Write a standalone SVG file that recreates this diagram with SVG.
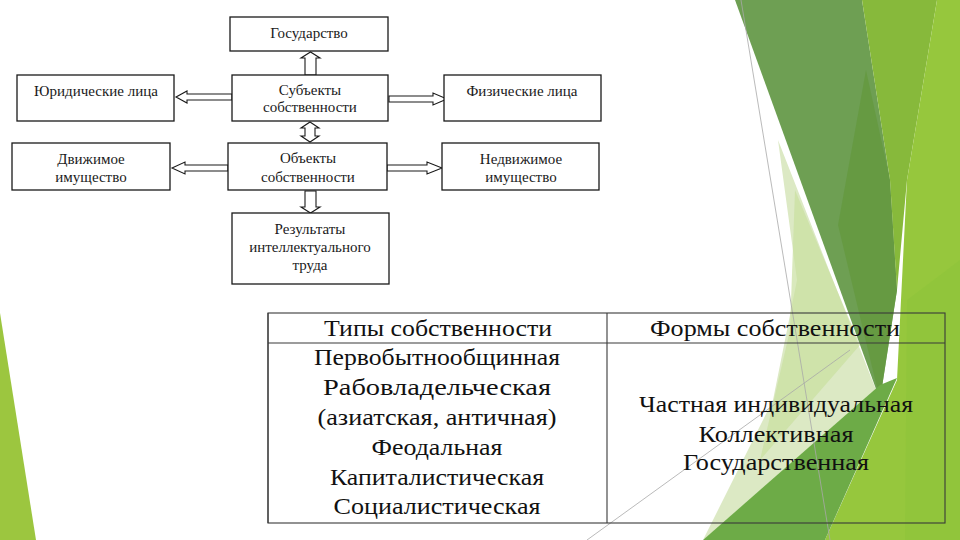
<svg xmlns="http://www.w3.org/2000/svg" width="960" height="540" viewBox="0 0 960 540">
<style>
.box{fill:#ffffff;stroke:#1a1a1a;stroke-width:1.3}
.arr{fill:#ffffff;stroke:#1a1a1a;stroke-width:1.1;stroke-linejoin:miter}
.t{font-size:15px;fill:#1a1a1a;text-anchor:middle}
.tt{font-size:23px;fill:#111111;text-anchor:middle}
.tl{stroke:#3a3a3a;stroke-width:1.1;fill:none}
.thin{stroke:#a8a8a8;stroke-width:0.8;fill:none}
</style>
<rect x="0" y="0" width="960" height="540" fill="#ffffff"/>
<g id="decor">
  <polygon points="0,313 36,540 0,540" fill="#9cc63f"/>
  <polygon points="778,140 880,400 703,540 773,400 797,280" fill="#dce9c4"/>
  <polygon points="795,190 860,345 760,460 790,330" fill="#c9dfa0" opacity="0.7"/>
  <polygon points="735,0 862,0 890,180 897,290 880,400" fill="#6e9f53"/>
  <polygon points="866,70 890,180 897,290 880,400 838,225" fill="#64993f" opacity="0.8"/>
  <polygon points="862,0 937,0 907,180 897,290 890,180" fill="#87b93b"/>
  <polygon points="937,0 960,0 960,540 825,540 897,380 907,180" fill="#96c73d"/>
  <polygon points="907,300 960,260 960,540 905,540" fill="#8ec53a" opacity="0.7"/>
  <polygon points="703,540 880,385 897,378 825,540" fill="#6dab47"/>
  <line class="thin" x1="741" y1="0" x2="830" y2="540"/>
  <line class="thin" x1="587" y1="540" x2="850" y2="350"/>
</g>
<g id="connectors">
  <path class="arr" d="M305,75 V58 H301 L310.5,52 L320,58 H316 V75 Z"/>
  <path class="arr" d="M232,94 H187 V91 L176,97 L187,103 V100 H232 Z"/>
  <path class="arr" d="M389,96 H433 V93 L447,99 L433,105 V102 H389 Z"/>
  <path class="arr" d="M310,122 L319,128 H315 V136 H319 L310,142 L301,136 H305 V128 H301 Z"/>
  <path class="arr" d="M228,165 H185 V162 L172,168 L185,174 V171 H228 Z"/>
  <path class="arr" d="M387,165 H427 V162 L442,168 L427,174 V171 H387 Z"/>
  <path class="arr" d="M305,191 V207 H301 L310.5,213 L320,207 H316 V191 Z"/>
</g>
<g font-family="'Liberation Serif', 'DejaVu Serif', 'Times New Roman', serif">
<g id="n-gosudarstvo">
  <rect class="box" x="230" y="17" width="158" height="34"/>
  <text class="t" x="309" y="38">Государство</text>
</g>
<g id="n-yuridicheskie">
  <rect class="box" x="17" y="75" width="157" height="46"/>
  <text class="t" x="96" y="96">Юридические лица</text>
</g>
<g id="n-subekty">
  <rect class="box" x="232" y="75" width="156" height="46"/>
  <text class="t" x="310" y="95">Субъекты</text>
  <text class="t" x="310" y="112">собственности</text>
</g>
<g id="n-fizicheskie">
  <rect class="box" x="444" y="75" width="157" height="46"/>
  <text class="t" x="522" y="96">Физические лица</text>
</g>
<g id="n-dvizhimoe">
  <rect class="box" x="12" y="143" width="158" height="47"/>
  <text class="t" x="91" y="164">Движимое</text>
  <text class="t" x="91" y="182">имущество</text>
</g>
<g id="n-obekty">
  <rect class="box" x="228" y="143" width="159" height="47"/>
  <text class="t" x="308" y="163">Объекты</text>
  <text class="t" x="308" y="182">собственности</text>
</g>
<g id="n-nedvizhimoe">
  <rect class="box" x="442" y="143" width="157" height="47"/>
  <text class="t" x="521" y="164">Недвижимое</text>
  <text class="t" x="521" y="182">имущество</text>
</g>
<g id="n-rezultaty">
  <rect class="box" x="232" y="213" width="157" height="71"/>
  <text class="t" x="310" y="234">Результаты</text>
  <text class="t" x="310" y="252">интеллектуального</text>
  <text class="t" x="310" y="270">труда</text>
</g>
<g id="table">
  <rect class="tl" x="268" y="313" width="677" height="210"/>
  <line class="tl" x1="268" y1="313" x2="268" y2="523" stroke-width="2"/>
  <line class="tl" x1="268" y1="343" x2="945" y2="343"/>
  <line class="tl" x1="607" y1="313" x2="607" y2="523"/>
  <text class="tt" x="438" y="336" textLength="228" lengthAdjust="spacingAndGlyphs">Типы собственности</text>
  <text class="tt" x="775" y="336" textLength="250" lengthAdjust="spacingAndGlyphs">Формы собственности</text>
  <text class="tt" x="437" y="365" textLength="246" lengthAdjust="spacingAndGlyphs">Первобытнообщинная</text>
  <text class="tt" x="437" y="395" textLength="228" lengthAdjust="spacingAndGlyphs">Рабовладельческая</text>
  <text class="tt" x="437" y="425" textLength="239" lengthAdjust="spacingAndGlyphs">(азиатская, античная)</text>
  <text class="tt" x="437" y="455" textLength="131" lengthAdjust="spacingAndGlyphs">Феодальная</text>
  <text class="tt" x="437" y="485" textLength="214" lengthAdjust="spacingAndGlyphs">Капиталистическая</text>
  <text class="tt" x="437" y="514" textLength="207" lengthAdjust="spacingAndGlyphs">Социалистическая</text>
  <text class="tt" x="776" y="412" textLength="274" lengthAdjust="spacingAndGlyphs">Частная индивидуальная</text>
  <text class="tt" x="776" y="442" textLength="155" lengthAdjust="spacingAndGlyphs">Коллективная</text>
  <text class="tt" x="776" y="470" textLength="186" lengthAdjust="spacingAndGlyphs">Государственная</text>
</g>
</g>
</svg>
